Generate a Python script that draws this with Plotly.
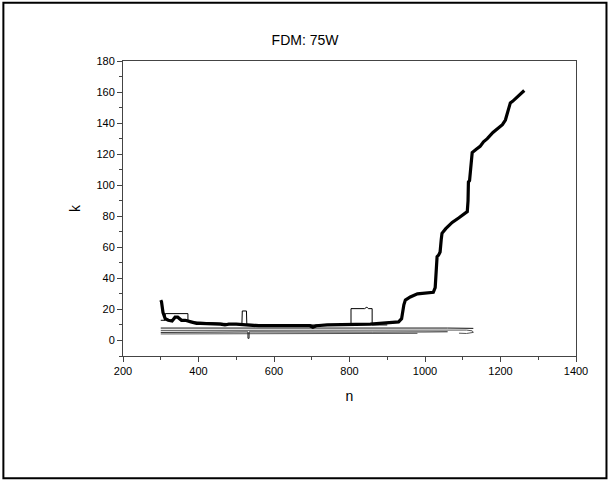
import plotly.graph_objects as go

# Main (thick) series
main_n = [300, 302, 306, 312, 320, 330, 338, 345, 355, 365, 380, 395, 405, 420, 440, 458, 470, 480,
          500, 520, 540, 560, 600, 650, 695, 703, 712, 741, 760, 802, 830, 855, 880, 908, 930, 938,
          941, 944, 948, 961, 980, 1006, 1022, 1027, 1030, 1032, 1036, 1040, 1043, 1045, 1055, 1072,
          1090, 1112, 1114, 1115, 1118, 1125, 1135, 1146, 1155, 1165, 1180, 1200, 1205, 1213, 1220,
          1226, 1232, 1245, 1263]
main_k = [26, 25, 18, 14, 13, 12.5, 15, 15, 13, 13, 12, 11, 11, 11, 11, 10.5, 10, 10.5,
          10.5, 10, 10, 9.5, 9.5, 9.5, 9.5, 8.5, 9.5, 10, 10, 10.5, 10.5, 10.5, 11, 11.5, 12, 14,
          19, 23, 26, 28, 30, 30.5, 31, 34, 45, 54, 55, 57, 65, 69, 72, 76,
          79, 83, 90, 102, 103, 121, 123, 125, 128, 130, 134, 138, 139, 142, 148,
          153, 154, 157, 161]

# Thin series with excursions
thin1_n = [300, 312, 312, 372, 372, 380, 515, 516, 527, 528, 600, 804, 804, 840, 846, 850, 860, 860, 900]
thin1_k = [13, 13, 17.3, 17.3, 13, 12, 10.5, 19, 19, 10.5, 10, 10, 20.5, 20.5, 21.5, 20.5, 20.5, 10, 10]

# Thin bundle near the bottom
thin2_n = [300, 450, 520, 700, 800, 900, 1000, 1060, 1128]
thin2_k = [8, 8, 8.2, 8, 8.2, 8.3, 8.2, 8, 7.8]
thin3_n = [300, 400, 530, 700, 850, 1000, 1080, 1110, 1125, 1128, 1110, 1090]
thin3_k = [6.5, 6.5, 6.8, 6.5, 6.6, 6.7, 6.6, 6.7, 6.2, 5.2, 4.5, 4.7]
thin4_n = [300, 420, 531, 531, 534, 534, 700, 860, 1000, 1060]
thin4_k = [5.2, 5.3, 5.5, 1.4, 1.4, 5.5, 5.3, 5.4, 5.5, 5.6]
thin5_n = [300, 450, 600, 760, 860, 980]
thin5_k = [4.2, 4.3, 4.5, 4.5, 4.6, 4.6]

x_ticks = [200, 400, 600, 800, 1000, 1200, 1400]
y_ticks = [0, 20, 40, 60, 80, 100, 120, 140, 160, 180]

fig = go.Figure()
for n, k, c in [(thin5_n, thin5_k, "#555555"), (thin4_n, thin4_k, "#222222"),
                (thin3_n, thin3_k, "#555555"), (thin2_n, thin2_k, "#111111"),
                (thin1_n, thin1_k, "#000000")]:
    fig.add_trace(go.Scatter(x=n, y=k, mode="lines", line=dict(color=c, width=1), showlegend=False))
fig.add_trace(go.Scatter(x=main_n, y=main_k, mode="lines",
                         line=dict(color="black", width=3.2), showlegend=False))

L, R, T, B = 122.7, 576.0, 60.7, 355.7
W, H = 611, 481
pw, ph = R - L, B - T

def px(x):
    return (x - L) / pw

def py(y):
    return (B - y) / ph

fig.add_shape(type="rect", xref="paper", yref="paper",
              x0=px(3), x1=px(606.5), y0=py(478), y1=py(2.5),
              line=dict(color="black", width=2), fillcolor="rgba(0,0,0,0)")

fig.update_layout(
    width=W, height=H,
    margin=dict(l=L, r=W - R, t=T, b=H - B, pad=0),
    paper_bgcolor="white", plot_bgcolor="white",
    font=dict(family="Liberation Sans, Arial, sans-serif", color="black", size=11),
    title=dict(text="FDM: 75W", x=px(349), xanchor="center", y=1 - 40 / H, yanchor="middle",
               font=dict(size=14)),
)
fig.update_xaxes(range=[200, 1400], tickvals=x_ticks, ticks="outside", ticklen=5,
                 tickcolor="#444", linecolor="#444", linewidth=1, mirror=True,
                 showgrid=False, zeroline=False,
                 minor=dict(dtick=100, ticks="outside", ticklen=3, tickcolor="#444"),
                 title=dict(text="n", font=dict(size=14), standoff=14))
fig.update_yaxes(range=[-10, 180], tickvals=y_ticks, ticks="outside", ticklen=5,
                 tickcolor="#444", linecolor="#444", linewidth=1, mirror=True,
                 showgrid=False, zeroline=False,
                 minor=dict(dtick=10, ticks="outside", ticklen=3, tickcolor="#444"),
                 title=dict(text="k", font=dict(size=14), standoff=12))

fig.write_html("out.html", config={"displayModeBar": False},
               post_script="document.body.style.margin='0';document.body.style.overflow='hidden';")
